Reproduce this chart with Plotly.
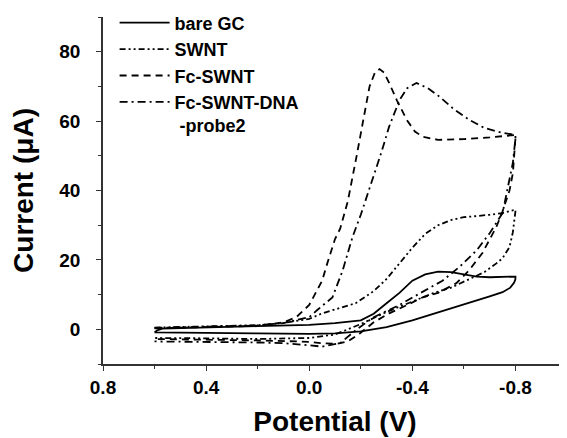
import plotly.graph_objects as go

# cyclic voltammograms, forward sweep 0.6 -> -0.8 V then back
bare_v = [0.6, 0.59, 0.57, 0.4, 0.2, 0.0, -0.1, -0.2, -0.25, -0.3, -0.35, -0.4, -0.45, -0.5, -0.55,
          -0.6, -0.65, -0.7, -0.75, -0.8, -0.8, -0.795, -0.78, -0.75, -0.7, -0.6, -0.5, -0.4, -0.3,
          -0.2, -0.1, 0.0, 0.2, 0.4, 0.6]
bare_i = [-0.9, -0.3, 0.2, 0.6, 0.9, 1.3, 1.8, 2.6, 4.5, 7.5, 10.5, 14.0, 15.8, 16.6, 16.5,
          15.8, 15.2, 15.0, 15.0, 15.2, 14.5, 13.5, 12.0, 10.7, 9.5, 7.2, 4.8, 2.6, 0.6,
          -0.6, -1.2, -1.3, -1.2, -1.1, -0.9]

swnt_v = [0.6, 0.4, 0.2, 0.1, 0.0, -0.05, -0.1, -0.18, -0.25, -0.3, -0.35, -0.4, -0.45, -0.5,
          -0.55, -0.6, -0.7, -0.75, -0.8, -0.8, -0.79, -0.777, -0.75, -0.726, -0.68, -0.61, -0.55,
          -0.48, -0.4, -0.3, -0.2, -0.1, 0.0, 0.2, 0.4, 0.6]
swnt_i = [0.5, 0.8, 1.2, 1.8, 3.0, 4.6, 5.8, 7.5, 11.0, 14.5, 19.0, 23.5, 27.5, 30.0,
          31.5, 32.3, 33.0, 33.5, 34.5, 34.0, 28.0, 23.7, 20.5, 19.0, 16.5, 14.0, 12.0,
          10.4, 8.0, 5.0, 1.5, -1.5, -2.5, -2.8, -2.6, -2.5]

fc_v = [0.6, 0.4, 0.2, 0.1, 0.05, 0.0, -0.05, -0.07, -0.1, -0.12, -0.15, -0.184, -0.21, -0.234,
        -0.255, -0.273, -0.29, -0.31, -0.34, -0.378, -0.41, -0.44, -0.5, -0.6, -0.7, -0.78, -0.8,
        -0.8, -0.79, -0.777, -0.75, -0.726, -0.7, -0.672, -0.62, -0.571, -0.5, -0.44, -0.38, -0.31,
        -0.25, -0.196, -0.15, -0.106, -0.05, 0.0, 0.2, 0.4, 0.6]
fc_i = [0.3, 0.6, 1.0, 2.0, 3.5, 7.0, 14.0, 19.0, 26.0, 29.0, 37.0, 50.0, 61.0, 70.0,
        74.0, 75.0, 74.0, 71.0, 66.0, 60.4, 57.0, 55.5, 54.6, 54.8, 55.3, 56.0, 56.0,
        55.0, 45.0, 40.0, 34.0, 29.5, 26.0, 22.0, 17.0, 13.3, 10.5, 9.2, 7.0, 4.6,
        2.0, -1.2, -3.5, -4.2, -4.0, -3.6, -3.2, -3.0, -2.8]

dna_v = [0.6, 0.4, 0.2, 0.1, 0.0, -0.03, -0.09, -0.13, -0.168, -0.2, -0.246, -0.28, -0.31, -0.35,
         -0.38, -0.416, -0.46, -0.506, -0.56, -0.62, -0.68, -0.75, -0.8, -0.8, -0.79, -0.777, -0.75,
         -0.7, -0.65, -0.583, -0.517, -0.43, -0.35, -0.25, -0.18, -0.12, -0.05, 0.0, 0.1, 0.2, 0.4, 0.6]
dna_i = [0.4, 0.7, 1.1, 1.8, 3.5, 5.5, 9.2, 17.0, 26.6, 33.0, 43.0, 51.0, 58.4, 66.0,
         69.5, 71.0, 69.5, 67.0, 63.5, 60.4, 58.0, 56.6, 56.0, 55.0, 48.0, 43.0, 33.5,
         27.7, 22.8, 18.0, 14.0, 10.4, 7.0, 3.5, -0.3, -4.0, -5.0, -4.6, -4.0, -3.8, -3.6, -3.5]

font = "Arial, Liberation Sans, sans-serif"

fig = go.Figure()
fig.add_trace(go.Scatter(x=bare_v, y=bare_i, mode="lines", name="bare GC",
                         line=dict(color="black", width=1.8)))
fig.add_trace(go.Scatter(x=swnt_v, y=swnt_i, mode="lines", name="SWNT",
                         line=dict(color="black", width=1.8, dash="6px,3px,2px,3px,2px,3px")))
fig.add_trace(go.Scatter(x=fc_v, y=fc_i, mode="lines", name="Fc-SWNT",
                         line=dict(color="black", width=1.8, dash="7px,5px")))
fig.add_trace(go.Scatter(x=dna_v, y=dna_i, mode="lines", name="Fc-SWNT-DNA<br> -probe2",
                         line=dict(color="black", width=1.8, dash="8px,4px,2px,4px")))

axis_common = dict(showline=True, linecolor="#333", linewidth=1.5, ticks="outside",
                   ticklen=5, tickwidth=1.2, tickcolor="#333", showgrid=False, zeroline=False,
                   tickfont=dict(family=font, size=19, color="black", weight="bold"),
                   minor=dict(ticks="outside", ticklen=3, tickwidth=1.2, tickcolor="#333"))

fig.update_xaxes(range=[0.8, -1.0], tickvals=[0.8, 0.4, 0.0, -0.4, -0.8],
                 ticktext=["0.8", "0.4", "0.0", "-0.4", "-0.8"],
                 minor_dtick=0.2,
                 title=dict(text="Potential (V)", standoff=15,
                            font=dict(family=font, size=28, color="black", weight="bold")),
                 **axis_common)
fig.update_yaxes(range=[-10, 90], tickvals=[0, 20, 40, 60, 80], minor_dtick=10,
                 ticklabelstandoff=12,
                 title=dict(text="Current (μA)", standoff=20,
                            font=dict(family=font, size=28, color="black", weight="bold")),
                 **axis_common)

# the page body adds an 8px offset, margins compensate for it
fig.update_layout(
    width=567, height=438,
    margin=dict(l=95, r=8, t=9, b=82, autoexpand=False),
    plot_bgcolor="white", paper_bgcolor="white",
    showlegend=True,
    legend=dict(x=0.025, y=1.036, xanchor="left", yanchor="top", valign="top",
                bgcolor="rgba(0,0,0,0)", itemwidth=50,
                font=dict(family=font, size=18, color="black", weight="bold")),
)

fig.write_html("out.html")
